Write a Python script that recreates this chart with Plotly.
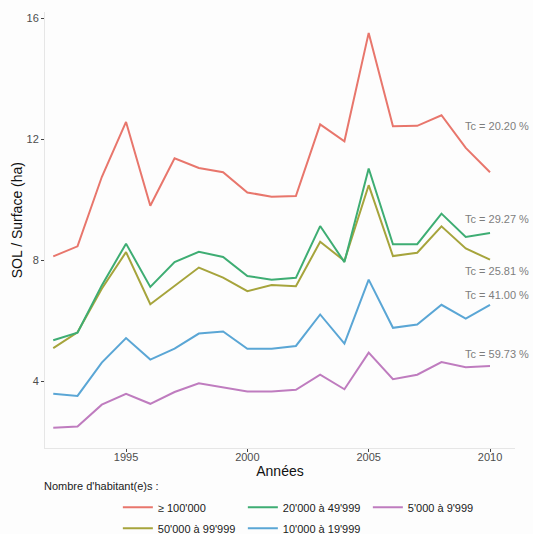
import plotly.graph_objects as go

years = list(range(1992, 2011))

s_100k = [8.13, 8.46, 10.75, 12.57, 9.80, 11.37, 11.05, 10.91, 10.24, 10.10, 10.12,
          12.49, 11.93, 15.51, 12.43, 12.44, 12.79, 11.71, 10.91]
s_50k = [5.10, 5.62, 7.06, 8.27, 6.55, 7.15, 7.76, 7.43, 6.98, 7.18, 7.14,
         8.61, 7.98, 10.48, 8.14, 8.25, 9.12, 8.39, 8.02]
s_20k = [5.36, 5.61, 7.17, 8.55, 7.12, 7.94, 8.28, 8.11, 7.48, 7.36, 7.42,
         9.13, 7.94, 11.03, 8.53, 8.53, 9.54, 8.77, 8.90]
s_10k = [3.59, 3.52, 4.62, 5.43, 4.72, 5.08, 5.58, 5.65, 5.08, 5.08, 5.17,
         6.21, 5.25, 7.36, 5.77, 5.88, 6.53, 6.07, 6.53]
s_5k = [2.47, 2.51, 3.23, 3.59, 3.26, 3.65, 3.94, 3.81, 3.67, 3.67, 3.72,
        4.22, 3.74, 4.95, 4.07, 4.22, 4.64, 4.47, 4.51]

categories = ["≥ 100'000", "50'000 à 99'999", "20'000 à 49'999",
              "10'000 à 19'999", "5'000 à 9'999"]
series = [s_100k, s_50k, s_20k, s_10k, s_5k]
colors = ["#E8766C", "#A6A43C", "#3EAD73", "#5AA6D5", "#BF7CBF"]
# first legend row / second legend row
legend_of = ["legend", "legend2", "legend", "legend2", "legend"]
rank = [1, 1, 2, 2, 3]

tc_labels = ["Tc = 20.20 %", "Tc = 29.27 %", "Tc = 25.81 %", "Tc = 41.00 %", "Tc = 59.73 %"]
tc_y = [12.43, 9.36, 7.65, 6.84, 4.92]
tc_x = 2010.3

FONT = "Liberation Sans, Arial, sans-serif"

fig = go.Figure()
for name, vals, col, lg, rk in zip(categories, series, colors, legend_of, rank):
    fig.add_trace(go.Scatter(
        x=years, y=vals, mode="lines", name=name,
        line=dict(color=col, width=2),
        legend=lg, legendrank=rk,
    ))

for txt, yv in zip(tc_labels, tc_y):
    fig.add_annotation(x=tc_x, y=yv, xref="x", yref="y", text=txt,
                       showarrow=False, xanchor="center", yanchor="middle",
                       font=dict(family=FONT, size=11, color="#7d7d7d"))

fig.add_annotation(x=-0.006, y=-0.088, xref="paper", yref="paper",
                   text="Nombre d'habitant(e)s :", showarrow=False,
                   xanchor="left", yanchor="middle",
                   font=dict(family=FONT, size=11, color="#1a1a1a"))

# vertical axis title
fig.add_annotation(x=-0.059, y=0.523, xref="paper", yref="paper",
                   text="SOL / Surface (ha)", showarrow=False, textangle=-90,
                   xanchor="center", yanchor="middle",
                   font=dict(family=FONT, size=14, color="#111111"))

axis_common = dict(
    showgrid=False, zeroline=False, showline=True, linecolor="#e6e6e6",
    linewidth=1, ticks="outside", ticklen=3, tickcolor="#444444", tickwidth=1,
    tickfont=dict(family=FONT, size=11, color="#4d4d4d"),
)

fig.update_layout(
    width=533, height=534,
    margin=dict(l=45, r=18, t=12, b=86, autoexpand=False),
    paper_bgcolor="#fdfdfd", plot_bgcolor="#fdfdfd",
    font=dict(family=FONT),
    xaxis=dict(range=[1991.66, 2011.03], tickvals=[1995, 2000, 2005, 2010],
               ticklabelstandoff=-4,
               title=dict(text="Années", standoff=2,
                          font=dict(family=FONT, size=14, color="#111111")),
               **axis_common),
    yaxis=dict(range=[1.8, 16.2], tickvals=[4, 8, 12, 16],
               **axis_common),
    legend=dict(orientation="h", x=0.155, y=-0.136, xanchor="left", yanchor="middle",
                entrywidth=80, traceorder="normal", bgcolor="rgba(0,0,0,0)",
                font=dict(family=FONT, size=11, color="#1a1a1a")),
    legend2=dict(orientation="h", x=0.155, y=-0.184, xanchor="left", yanchor="middle",
                 entrywidth=80, traceorder="normal", bgcolor="rgba(0,0,0,0)",
                 font=dict(family=FONT, size=11, color="#1a1a1a")),
    showlegend=True,
)

fig.write_html("out.html")
